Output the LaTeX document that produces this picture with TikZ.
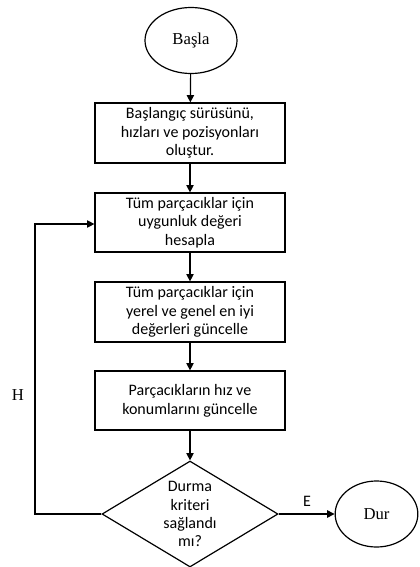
\documentclass[tikz,border=0pt]{standalone}
\usepackage{fontspec}
\setmainfont{Liberation Serif}
\newfontfamily\boxfont{Carlito}
\usetikzlibrary{shapes.geometric,arrows.meta}
\begin{document}
\begin{tikzpicture}[x=0.75pt,y=-0.75pt,
  line width=0.9pt,
  proc/.style={draw, rectangle, minimum width=142.5pt, minimum height=45pt, align=center, font=\boxfont\fontsize{12}{14}\selectfont, inner sep=0pt},
  term/.style={draw, ellipse, inner sep=0pt, font=\fontsize{12.5}{14}\selectfont},
  dec/.style={draw, diamond, aspect=1.66, minimum width=132pt, minimum height=79.5pt, inner sep=-7pt, align=center, font=\boxfont\fontsize{12}{13.6}\selectfont},
  flow/.style={-{Triangle[length=5.5pt,width=5.5pt]}}]
\useasboundingbox (0,0) rectangle (419,567);
\node[term, minimum width=69pt, minimum height=49.5pt] (start) at (191,40.5) {Başla};
\node[proc] (b1) at (190,133) {Başlangıç sürüsünü,\\hızları ve pozisyonları\\oluştur.};
\node[proc, minimum height=44.25pt] (b2) at (190,222.5) {Tüm parçacıklar için\\uygunluk değeri\\hesapla};
\node[proc] (b3) at (190,312) {Tüm parçacıklar için\\yerel ve genel en iyi\\değerleri güncelle};
\node[proc, minimum height=44.25pt] (b4) at (190,400.5) {Parçacıkların hız ve\\konumlarını güncelle};
\node[dec] (d) at (190,514) {Durma\\kriteri\\sağlandı\\mı?};
\node[term, minimum width=62pt, minimum height=49.5pt] (stop) at (376.5,514) {Dur};
\coordinate (c1) at (35,514);
\coordinate (c2) at (35,224);
\draw[flow] (start) -- (b1);
\draw[flow] (b1) -- (b2);
\draw[flow] (b2) -- (b3);
\draw[flow] (b3) -- (b4);
\draw[flow] (b4) -- (d);
\draw[flow] (d.east) -- (stop.west);
\draw[flow] (d.west) -- (c1) -- (c2) -- (b2.west |- c2);
\node[font=\fontsize{12.5}{14}\selectfont] (h) at (18,395) {H};
\node[font=\boxfont\fontsize{12}{13}\selectfont] (e) at (307,501) {E};
\end{tikzpicture}
\end{document}
